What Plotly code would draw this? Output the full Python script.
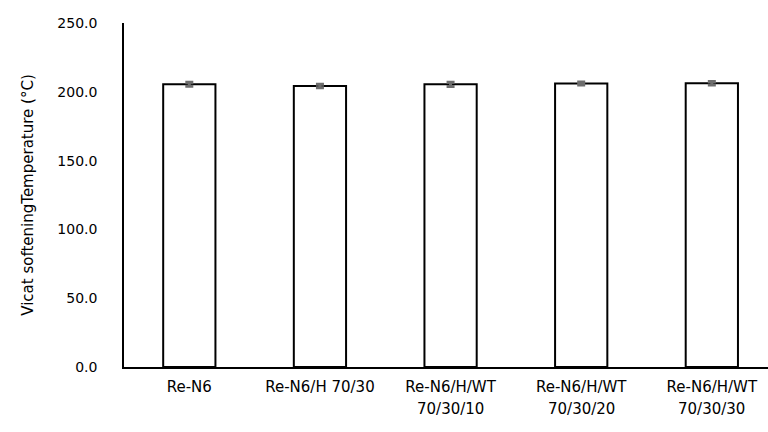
import plotly.graph_objects as go

categories = ["Re-N6", "Re-N6/H 70/30", "Re-N6/H/WT", "Re-N6/H/WT", "Re-N6/H/WT"]
second_line = ["", "", "70/30/10", "70/30/20", "70/30/30"]
values = [205.5, 204.2, 205.4, 206.0, 206.2]
errors = [1.5, 1.2, 1.6, 1.1, 1.2]
yticks = [0, 50, 100, 150, 200, 250]

xs = list(range(len(categories)))
FONT = "DejaVu Sans"

fig = go.Figure()
fig.add_trace(go.Bar(
    x=xs, y=values, width=0.4,
    marker=dict(color="white", line=dict(color="black", width=2)),
    error_y=dict(type="data", array=errors, visible=True, color="#6e6e6e", thickness=3, width=4),
))

for x, t in zip(xs, second_line):
    if t:
        fig.add_annotation(x=x, xref="x", y=-42 / 344, yref="paper", yanchor="middle",
                           text=t, showarrow=False,
                           font=dict(family=FONT, size=15, color="black"))

fig.update_layout(
    width=768, height=432,
    margin=dict(l=124, r=0, t=23, b=65),
    plot_bgcolor="white", paper_bgcolor="white",
    showlegend=False,
    font=dict(family=FONT, size=15, color="black"),
)
fig.update_xaxes(
    range=[-0.5, 4.43], tickvals=xs, ticktext=categories,
    showline=True, linecolor="black", linewidth=1.5, ticks="", showgrid=False,
    zeroline=False, ticklabelstandoff=5,
    tickfont=dict(family=FONT, size=15, color="black"),
)
fig.update_yaxes(
    range=[0, 250], tickvals=yticks, ticktext=[f"{v:.1f}" for v in yticks],
    showline=True, linecolor="black", linewidth=1.5, ticks="", showgrid=False,
    zeroline=False, ticklabelstandoff=22,
    tickfont=dict(family=FONT, size=14, color="black"),
    title=dict(text="Vicat softeningTemperature (°C)", standoff=20,
               font=dict(family=FONT, size=15, color="black")),
)

fig.write_html("out.html")
